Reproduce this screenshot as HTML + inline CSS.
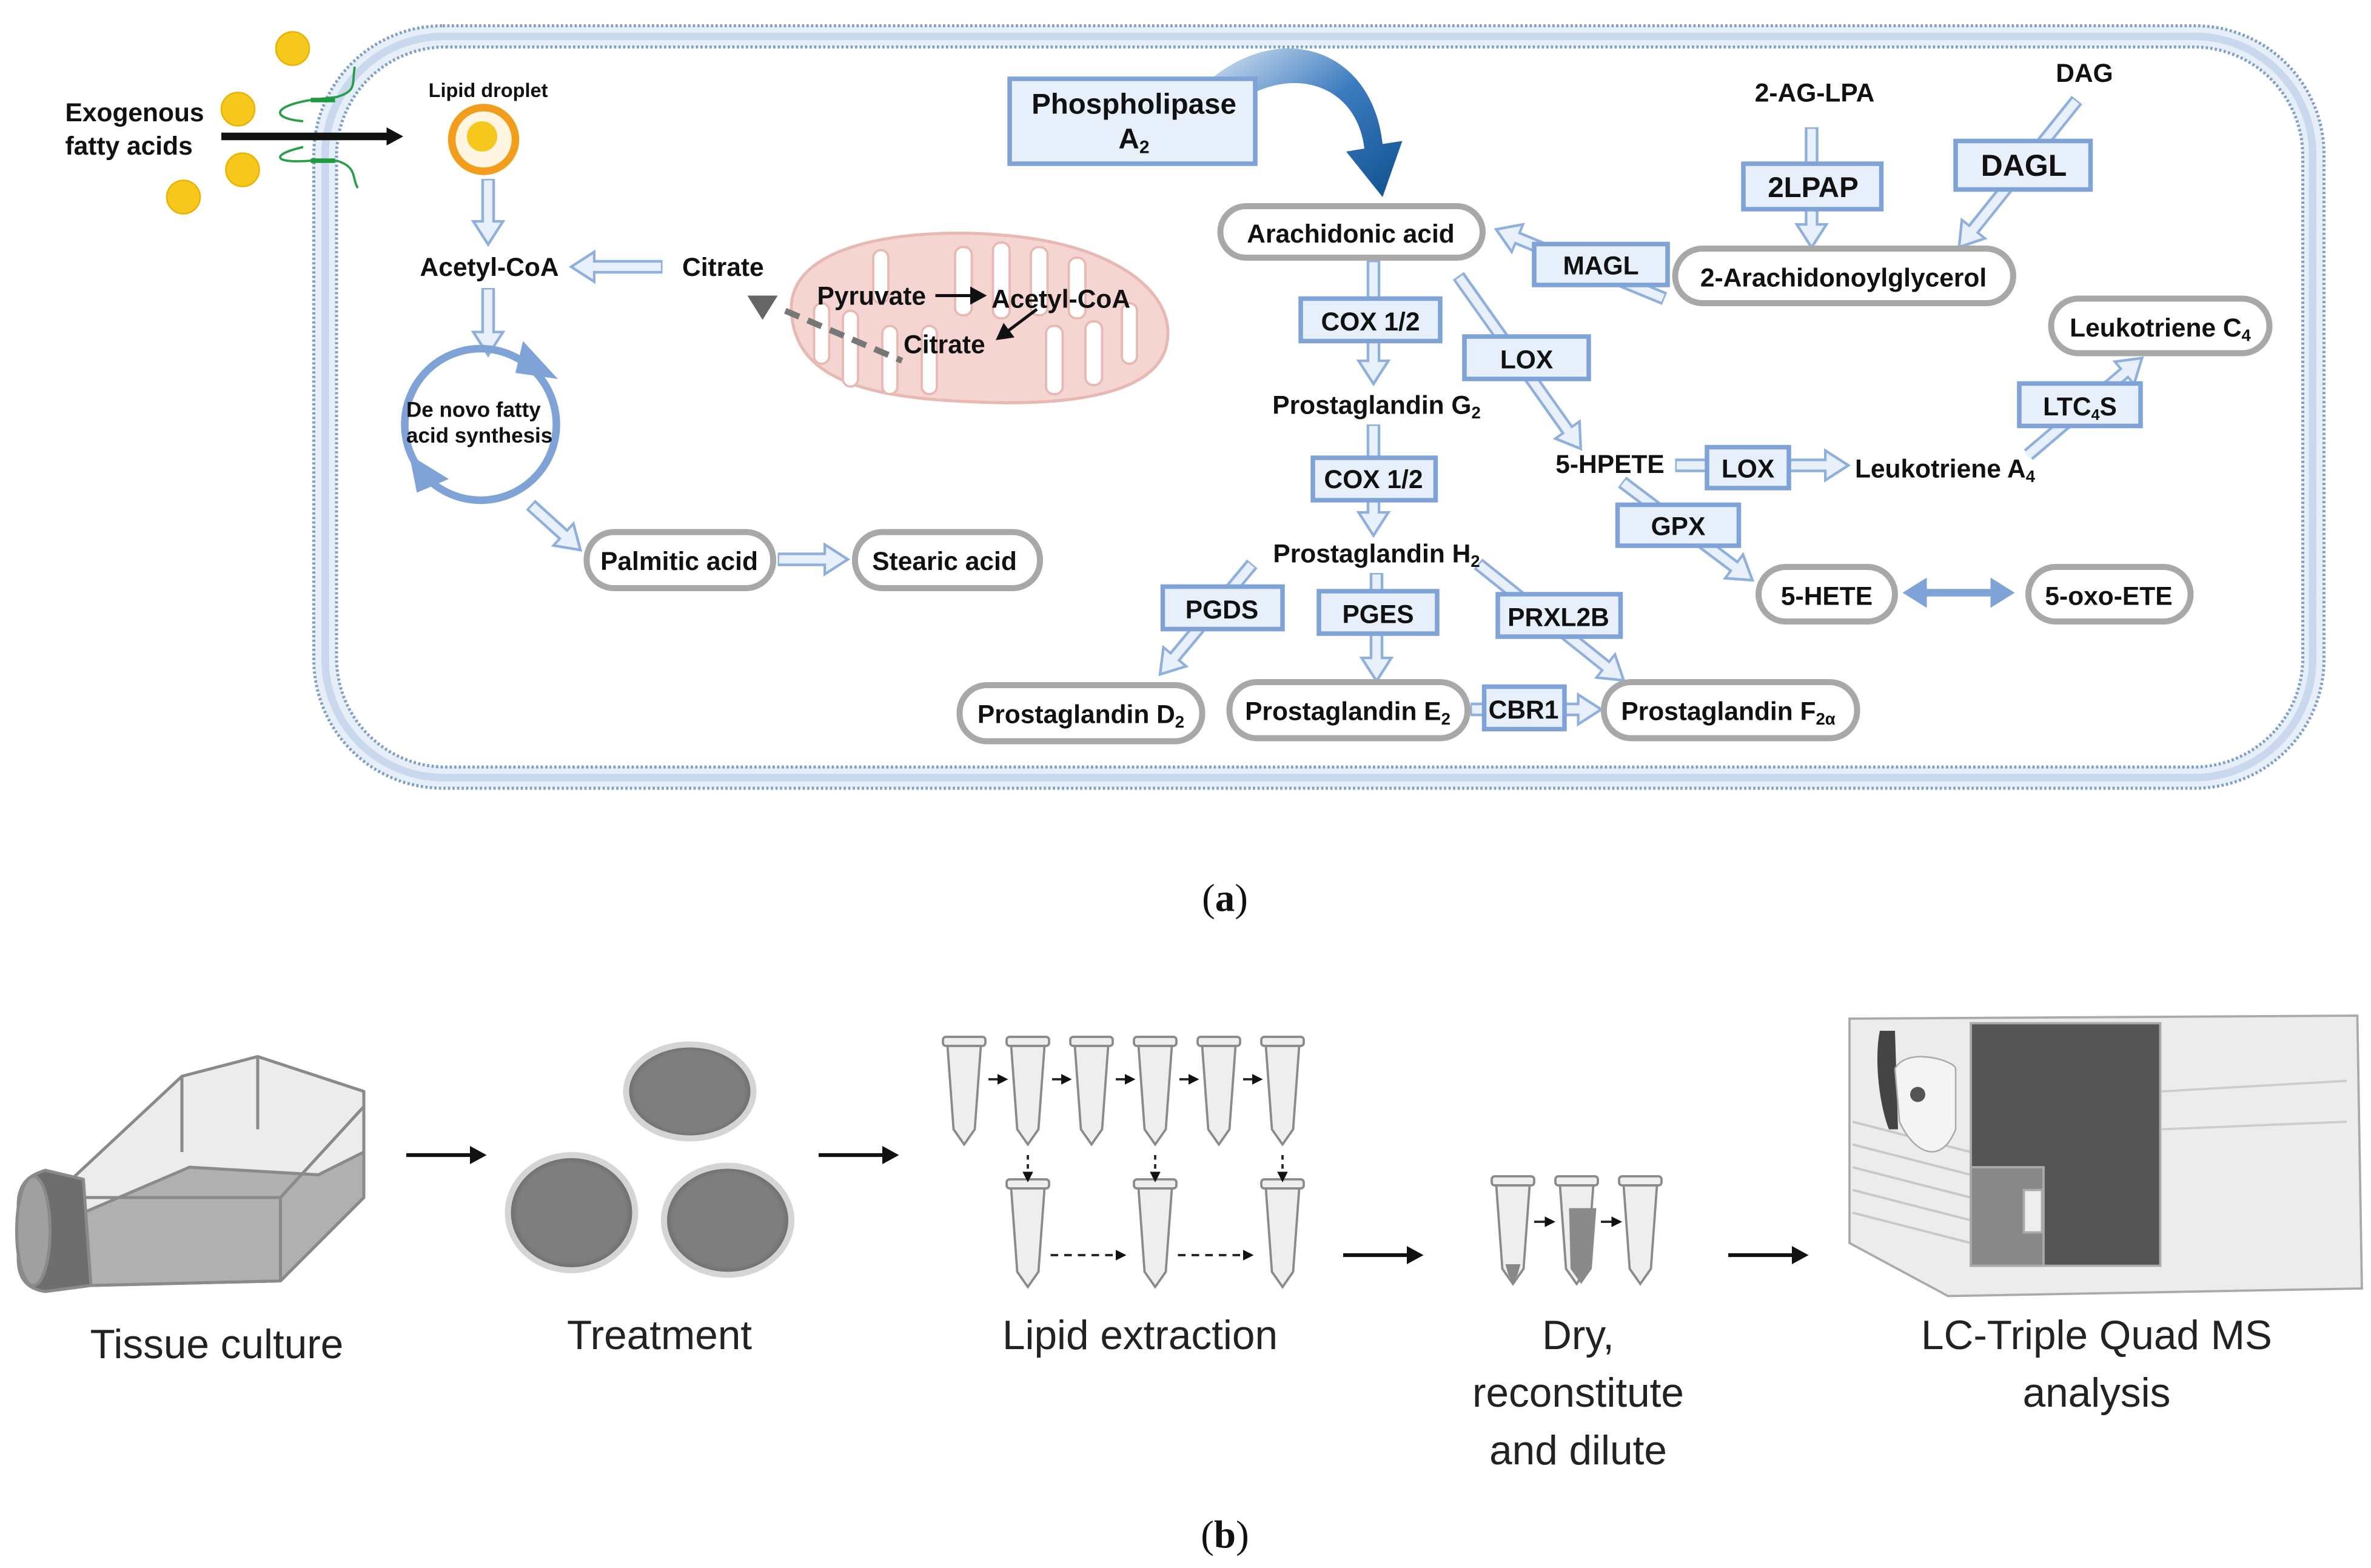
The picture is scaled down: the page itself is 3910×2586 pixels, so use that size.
<!DOCTYPE html>
<html><head><meta charset="utf-8"><style>
html,body{margin:0;padding:0;background:#fff;}
svg{display:block}
.t{font-family:"Liberation Sans Narrow","Liberation Sans",sans-serif;font-weight:bold;fill:#111;}
.c{font-family:"Liberation Sans",sans-serif;fill:#222;font-size:27px;}
.s{font-family:"Liberation Serif",serif;font-size:26px;fill:#111}
</style></head><body>
<svg width="3910" height="2586" viewBox="0 0 1564 1034.4" xmlns="http://www.w3.org/2000/svg">
<defs>
<marker id="h" markerUnits="userSpaceOnUse" markerWidth="20" markerHeight="24" viewBox="0 -11 17 22" refX="0" refY="0" orient="auto">
<path d="M0,-9 L14,0 L0,9 Z" fill="#e8f0fb" stroke="#8fb0dc" stroke-width="1.6"/>
</marker>
<marker id="k" markerUnits="userSpaceOnUse" markerWidth="14" markerHeight="14" viewBox="0 -7 12 14" refX="2" refY="0" orient="auto">
<path d="M0,-6 L11,0 L0,6 Z" fill="#111"/>
</marker>
<marker id="m" markerUnits="userSpaceOnUse" markerWidth="8" markerHeight="8" viewBox="0 -4 7 8" refX="1" refY="0" orient="auto">
<path d="M0,-3.5 L7,0 L0,3.5 Z" fill="#111"/>
</marker>
<linearGradient id="g" x1="0" y1="0" x2="1" y2="1"><stop offset="0" stop-color="#dfeaf6"/><stop offset="0.5" stop-color="#3b7bbf"/><stop offset="1" stop-color="#12518f"/></linearGradient>
<radialGradient id="pd" cx="0.5" cy="0.5" r="0.5"><stop offset="0.85" stop-color="#7e7e7e"/><stop offset="1" stop-color="#6a6a6a"/></radialGradient>
</defs>

<!-- membrane -->
<rect x="207" y="17" width="1326" height="503" rx="85" fill="#e6eef8" stroke="#7f9fc6" stroke-width="2" stroke-dasharray="1.5 1.5"/>
<rect x="222" y="31" width="1297" height="475" rx="72" fill="#fff" stroke="#7f9fc6" stroke-width="2" stroke-dasharray="1.5 1.5"/>
<rect x="214.5" y="24" width="1311" height="489" rx="78" fill="none" stroke="#c9d8ec" stroke-width="5"/>

<!-- exogenous -->
<text class="t" x="43" y="80" font-size="17">Exogenous</text>
<text class="t" x="43" y="102" font-size="17">fatty acids</text>
<g fill="#f6c81e" stroke="#e8b400" stroke-width="1"><circle cx="193" cy="32" r="11"/><circle cx="157" cy="72" r="11"/><circle cx="160" cy="112" r="11"/><circle cx="121" cy="130" r="11"/></g>
<path d="M234,44 C232,55 236,60 222,64 L205,66 C180,70 178,78 200,80 M200,97 C178,102 180,108 205,106 L222,106 C236,110 232,118 236,124" stroke="#2a9d4a" stroke-width="1.5" fill="none"/>
<path d="M205,66 h16 M205,106 h16" stroke="#1d9a3f" stroke-width="3"/>
<line x1="146" y1="90" x2="257" y2="90" stroke="#111" stroke-width="5" marker-end="url(#k)"/>
<text class="t" x="322" y="64" font-size="13" text-anchor="middle">Lipid droplet</text>
<circle cx="319" cy="92" r="21" fill="#fff5e0" stroke="#f29e1c" stroke-width="5"/>
<circle cx="318" cy="90" r="10" fill="#f6c81e"/>

<!-- hollow arrows -->
<g fill="none">
<g stroke="#8fb0dc" stroke-width="9" marker-end="url(#h)">
<line x1="322" y1="118" x2="322" y2="146"/>
<line x1="437" y1="176" x2="392" y2="176"/>
<line x1="322" y1="190" x2="322" y2="219"/>
<line x1="350" y1="333" x2="371.6" y2="352.6"/>
<line x1="513" y1="369" x2="544" y2="369"/>
<line x1="906" y1="172" x2="906" y2="238"/>
<line x1="906" y1="280" x2="906" y2="338"/>
<line x1="962" y1="182" x2="1033.9" y2="283.6"/>
<line x1="1098" y1="197" x2="1001" y2="157.1"/>
<line x1="1195" y1="84" x2="1195" y2="148"/>
<line x1="1370" y1="66" x2="1301.8" y2="151.1"/>
<line x1="1105" y1="307" x2="1204" y2="307"/>
<line x1="1338" y1="300" x2="1401.3" y2="246.1"/>
<line x1="1070" y1="318" x2="1143.8" y2="373.6"/>
<line x1="826" y1="372" x2="775" y2="433.2"/>
<line x1="908" y1="378" x2="908" y2="434"/>
<line x1="975" y1="372" x2="1059.1" y2="439.3"/>
<line x1="970" y1="468" x2="1041" y2="468"/>
</g>
<g stroke="#e8f0fb" stroke-width="5.5">
<line x1="322" y1="119" x2="322" y2="147.5"/>
<line x1="436" y1="176" x2="390.5" y2="176"/>
<line x1="322" y1="191" x2="322" y2="220.5"/>
<line x1="351" y1="334" x2="372.7" y2="353.6"/>
<line x1="514" y1="369" x2="545.5" y2="369"/>
<line x1="906" y1="173" x2="906" y2="239.5"/>
<line x1="906" y1="281" x2="906" y2="339.5"/>
<line x1="962.6" y1="183" x2="1034.8" y2="284.8"/>
<line x1="1097" y1="196.6" x2="999.6" y2="156.5"/>
<line x1="1195" y1="85" x2="1195" y2="149.5"/>
<line x1="1369.4" y1="66.8" x2="1300.9" y2="152.3"/>
<line x1="1106" y1="307" x2="1205.5" y2="307"/>
<line x1="1337.2" y1="300.6" x2="1402.4" y2="245.1"/>
<line x1="1070.8" y1="318.6" x2="1145" y2="374.5"/>
<line x1="825.4" y1="372.8" x2="774" y2="434.4"/>
<line x1="908" y1="379" x2="908" y2="435.5"/>
<line x1="975.8" y1="372.6" x2="1060.3" y2="440.3"/>
<line x1="971" y1="468" x2="1042.5" y2="468"/>
</g>
</g>
<line x1="1268" y1="391" x2="1316" y2="391" stroke="#7fa3d6" stroke-width="5"/>
<polygon points="1255,391 1271,381 1271,401" fill="#7fa3d6"/>
<polygon points="1329,391 1313,381 1313,401" fill="#7fa3d6"/>

<!-- mitochondrion -->
<path d="M522,205 C520,160 600,150 660,155 C730,160 775,190 770,225 C765,262 700,268 640,265 C560,262 524,245 522,205 Z" fill="#f4d5d2" stroke="#e8b8b3" stroke-width="2"/>
<g fill="#fff" stroke="#e8b8b3" stroke-width="1.5">
<rect x="537" y="200" width="10" height="40" rx="5"/>
<rect x="556" y="205" width="10" height="50" rx="5"/>
<rect x="576" y="165" width="10" height="35" rx="5"/>
<rect x="582" y="215" width="10" height="45" rx="5"/>
<rect x="608" y="215" width="10" height="45" rx="5"/>
<rect x="630" y="163" width="11" height="45" rx="5"/>
<rect x="655" y="160" width="11" height="50" rx="5"/>
<rect x="680" y="163" width="11" height="45" rx="5"/>
<rect x="690" y="215" width="11" height="45" rx="5"/>
<rect x="705" y="170" width="11" height="40" rx="5"/>
<rect x="716" y="212" width="11" height="42" rx="5"/>
<rect x="740" y="200" width="10" height="40" rx="5"/>
</g>
<polygon points="493,195 513,195 503,211" fill="#666"/>
<line x1="518" y1="205" x2="595" y2="238" stroke="#777" stroke-width="4" stroke-dasharray="10 6"/>
<text class="t" x="539" y="201" font-size="17">Pyruvate</text>
<line x1="617" y1="195" x2="642" y2="195" stroke="#111" stroke-width="2" marker-end="url(#k)"/>
<text class="t" x="654" y="203" font-size="17">Acetyl-CoA</text>
<line x1="684" y1="204" x2="664" y2="219" stroke="#111" stroke-width="2" marker-end="url(#k)"/>
<text class="t" x="596" y="233" font-size="17">Citrate</text>

<text class="t" x="277" y="182" font-size="17">Acetyl-CoA</text>
<text class="t" x="450" y="182" font-size="17">Citrate</text>

<!-- de novo circle -->
<circle cx="317" cy="280" r="50" fill="none" stroke="#7fa3d6" stroke-width="5"/>
<polygon points="345,225 368,250 340,246" fill="#7fa3d6"/>
<polygon points="270,300 296,316 275,325" fill="#7fa3d6"/>
<text class="t" x="268" y="275" font-size="14">De novo fatty</text>
<text class="t" x="268" y="292" font-size="14">acid synthesis</text>

<!-- pills -->
<g fill="#fff" stroke="#a8a8a8" stroke-width="4">
<rect x="805" y="136" width="173" height="34" rx="17"/>
<rect x="1105" y="164" width="223" height="36" rx="18"/>
<rect x="1353" y="197" width="144" height="36" rx="18"/>
<rect x="1160" y="374" width="90" height="36" rx="18"/>
<rect x="1338" y="374" width="107" height="36" rx="18"/>
<rect x="387" y="351" width="123" height="37" rx="18"/>
<rect x="564" y="351" width="122" height="37" rx="18"/>
<rect x="633" y="452" width="160" height="37" rx="18"/>
<rect x="811" y="450" width="157" height="37" rx="18"/>
<rect x="1058" y="450" width="167" height="37" rx="18"/>
</g>
<g class="t" font-size="17" text-anchor="middle">
<text x="891" y="160">Arachidonic acid</text>
<text x="1216" y="189">2-Arachidonoylglycerol</text>
<text x="1425" y="222">Leukotriene C<tspan font-size="11" dy="3">4</tspan></text>
<text x="1205" y="399">5-HETE</text>
<text x="1391" y="399">5-oxo-ETE</text>
<text x="448" y="376">Palmitic acid</text>
<text x="623" y="376">Stearic acid</text>
<text x="713" y="477">Prostaglandin D<tspan font-size="11" dy="3">2</tspan></text>
<text x="889" y="475">Prostaglandin E<tspan font-size="11" dy="3">2</tspan></text>
<text x="1140" y="475">Prostaglandin F<tspan font-size="11" dy="3">2α</tspan></text>
<text x="908" y="273">Prostaglandin G<tspan font-size="11" dy="3">2</tspan></text>
<text x="908" y="371">Prostaglandin H<tspan font-size="11" dy="3">2</tspan></text>
<text x="1062" y="312">5-HPETE</text>
<text x="1283" y="315">Leukotriene A<tspan font-size="11" dy="3">4</tspan></text>
<text x="1197" y="67">2-AG-LPA</text>
<text x="1375" y="54">DAG</text>
</g>

<!-- curved arrow -->
<path d="M790,60 C840,10 905,30 912,95 L925,93 L912,130 L888,100 L900,98 C895,55 850,40 810,72 Z" fill="url(#g)"/>

<!-- enzyme boxes -->
<g fill="#e6effa" stroke="#7fa3d6" stroke-width="3">
<rect x="666" y="52" width="162" height="56"/>
<rect x="1150" y="108" width="91" height="30"/>
<rect x="1290" y="93" width="89" height="32"/>
<rect x="1012" y="161" width="88" height="27"/>
<rect x="858" y="197" width="92" height="28"/>
<rect x="966" y="222" width="82" height="28"/>
<rect x="866" y="302" width="81" height="28"/>
<rect x="1126" y="295" width="54" height="27"/>
<rect x="1332" y="253" width="80" height="28"/>
<rect x="1067" y="333" width="80" height="27"/>
<rect x="767" y="387" width="79" height="28"/>
<rect x="870" y="390" width="78" height="28"/>
<rect x="988" y="392" width="81" height="28"/>
<rect x="979" y="453" width="53" height="28"/>
</g>
<g class="t" font-size="17" text-anchor="middle">
<text x="748" y="75" font-size="19">Phospholipase</text>
<text x="748" y="98" font-size="19">A<tspan font-size="12" dy="3">2</tspan></text>
<text x="1196" y="130" font-size="19">2LPAP</text>
<text x="1335" y="116" font-size="20">DAGL</text>
<text x="1056" y="181">MAGL</text>
<text x="904" y="218">COX 1/2</text>
<text x="1007" y="243">LOX</text>
<text x="906" y="322">COX 1/2</text>
<text x="1153" y="315">LOX</text>
<text x="1372" y="274">LTC<tspan font-size="10" dy="3">4</tspan><tspan dy="-3">S</tspan></text>
<text x="1107" y="353">GPX</text>
<text x="806" y="408">PGDS</text>
<text x="909" y="411">PGES</text>
<text x="1028" y="413">PRXL2B</text>
<text x="1005" y="474">CBR1</text>
</g>

<text class="s" x="808" y="601" text-anchor="middle">(<tspan font-weight="bold">a</tspan>)</text>
<text class="s" x="808" y="1021" text-anchor="middle">(<tspan font-weight="bold">b</tspan>)</text>

<!-- part b -->
<!-- flask -->
<g stroke="#8a8a8a" stroke-width="2" stroke-linejoin="round">
<path d="M45,780 L120,710 L170,697 L240,720 L240,790 L185,845 L60,848 Z" fill="#ececec"/>
<path d="M55,800 L125,770 L210,775 L240,760 L240,790 L185,845 L60,848 Z" fill="#b0b0b0"/>
<path d="M120,710 L120,760 M170,697 L170,745 M185,790 L185,845 M55,790 L185,790 L240,730" fill="none"/>
<path d="M12,795 C12,780 20,775 30,772 L55,778 L60,848 L30,852 C15,850 12,840 12,830 Z" fill="#6e6e6e"/>
<ellipse cx="22" cy="812" rx="11" ry="36" fill="#a0a0a0"/>
</g>
<g fill="url(#pd)" stroke="#d5d5d5" stroke-width="4">
<ellipse cx="455" cy="720" rx="42" ry="31"/>
<ellipse cx="377" cy="800" rx="42" ry="38"/>
<ellipse cx="480" cy="805" rx="42" ry="36"/>
</g>
<!-- tubes -->
<g fill="#eeeeee" stroke="#8a8a8a" stroke-width="1.5">
<g id="tb"><rect x="622" y="684" width="28" height="6" rx="2"/><path d="M625,690 h22 l-4,55 l-7,10 l-7,-10 z"/></g>
<use href="#tb" x="42"/><use href="#tb" x="84"/><use href="#tb" x="126"/><use href="#tb" x="168"/><use href="#tb" x="210"/>
<use href="#tb" x="42" y="94"/><use href="#tb" x="126" y="94"/><use href="#tb" x="210" y="94"/>
<use href="#tb" x="362" y="92"/><use href="#tb" x="404" y="92"/><use href="#tb" x="446" y="92"/>
</g>
<path d="M1035,797 h18 l-3,40 l-7,10 l-7,-10 z" fill="#8a8a8a"/>
<path d="M1003,834 l-2,7 l-3,5 l-3,-5 l-2,-7 z" fill="#888"/>
<g stroke="#222" stroke-width="1.5" fill="none" marker-end="url(#m)">
<line x1="652" y1="712" x2="659" y2="712"/><line x1="694" y1="712" x2="701" y2="712"/><line x1="736" y1="712" x2="743" y2="712"/><line x1="778" y1="712" x2="785" y2="712"/><line x1="820" y1="712" x2="827" y2="712"/>
<line x1="678" y1="762" x2="678" y2="774" stroke-dasharray="3 3"/><line x1="762" y1="762" x2="762" y2="774" stroke-dasharray="3 3"/><line x1="846" y1="762" x2="846" y2="774" stroke-dasharray="3 3"/>
<line x1="693" y1="828" x2="737" y2="828" stroke-dasharray="5 4"/><line x1="777" y1="828" x2="821" y2="828" stroke-dasharray="5 4"/>
<line x1="1012" y1="806" x2="1020" y2="806"/><line x1="1056" y1="806" x2="1064" y2="806"/>
</g>
<!-- instrument -->
<g stroke="#aaa" stroke-width="1.5">
<path d="M1220,672 L1555,670 L1558,850 L1285,855 L1220,820 Z" fill="#ececec"/>
<path d="M1222,740 L1300,760 M1222,755 L1300,775 M1222,770 L1300,790 M1222,785 L1300,805 M1222,800 L1300,820" stroke="#c8c8c8"/>
<rect x="1300" y="675" width="125" height="160" fill="#555"/>
<rect x="1300" y="770" width="48" height="65" fill="#888"/>
<rect x="1335" y="785" width="12" height="28" fill="#eee"/>
<path d="M1426,720 L1548,713 M1426,745 L1548,740" stroke="#ccc"/>
</g>
<path d="M1240,680 C1236,700 1240,730 1246,745 L1252,745 L1250,680 Z" fill="#444"/>
<path d="M1250,705 C1258,690 1290,700 1290,705 L1290,745 C1280,770 1262,760 1253,740 Z" fill="#f4f4f4" stroke="#aaa"/>
<circle cx="1265" cy="722" r="5" fill="#555"/>
<!-- arrows b -->
<g stroke="#111" stroke-width="2.5">
<line x1="268" y1="762" x2="312" y2="762" marker-end="url(#k)"/>
<line x1="540" y1="762" x2="584" y2="762" marker-end="url(#k)"/>
<line x1="886" y1="828" x2="930" y2="828" marker-end="url(#k)"/>
<line x1="1140" y1="828" x2="1184" y2="828" marker-end="url(#k)"/>
</g>
<g class="c" text-anchor="middle">
<text x="143" y="896">Tissue culture</text>
<text x="435" y="890">Treatment</text>
<text x="752" y="890">Lipid extraction</text>
<text x="1041" y="890">Dry,</text>
<text x="1041" y="928">reconstitute</text>
<text x="1041" y="966">and dilute</text>
<text x="1383" y="890">LC-Triple Quad MS</text>
<text x="1383" y="928">analysis</text>
</g>
</svg>
</body></html>
